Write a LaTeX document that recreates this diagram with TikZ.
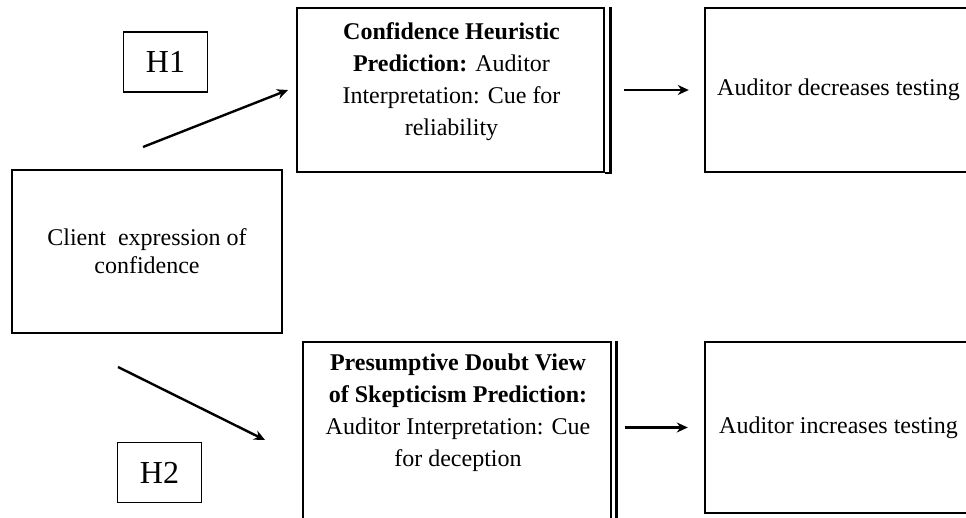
\documentclass[tikz,border=0pt]{standalone}
\usepackage{fontspec}
\setmainfont{Liberation Serif}
\usetikzlibrary{arrows.meta}

\begin{document}
\begin{tikzpicture}[
  x=0.5pt, y=-0.5pt,
  box/.style={rectangle, draw, line width=1.2pt, inner sep=0pt},
  hyp/.style={rectangle, draw, line width=0.6pt, minimum width=42pt, minimum height=30pt, font=\fontsize{16}{19}\selectfont},
  txt/.style={align=center, font=\fontsize{12}{16}\selectfont},
  flow/.style={-{Stealth[length=5.5pt,width=5pt]}, line width=1.2pt}
]
\clip (0,0) rectangle (966,518);

% Left: client cue and hypotheses
\node[box, minimum width=135pt, minimum height=81.5pt, align=center, font=\fontsize{12}{14}\selectfont] (client) at (147,251.5) {Client~ expression of\\confidence};
\node[hyp] (h1) at (165.5,62) {H1};
\node[hyp] (h2) at (159.5,472.5) {H2};

% Middle: the two predictions
\node[box, minimum width=153.5pt, minimum height=82pt] (conf) at (450.5,90) {};
\node[txt] (conftxt) at (451.5,82) {\textbf{Confidence Heuristic}\\\textbf{Prediction:} Auditor\\Interpretation: Cue for\\reliability};
\draw[line width=1.3pt] ([xshift=2.5pt]conf.north east) -- ([xshift=2.5pt]conf.south east) -- (conf.south east);

\node[box, minimum width=154pt, minimum height=100pt] (pres) at (457,442) {};
\node[txt] (prestxt) at (458,413) {\textbf{Presumptive Doubt View}\\\textbf{of Skepticism Prediction:}\\Auditor Interpretation: Cue\\for deception};
\draw[line width=1.3pt] ([xshift=2pt]pres.north east) -- ([xshift=2pt]pres.south east);

% Right: outcomes
\node[box, minimum width=133.5pt, minimum height=82pt, txt] (dec) at (838.5,90) {Auditor decreases testing};
\node[box, minimum width=133.5pt, minimum height=85.5pt, txt] (inc) at (838.5,427.5) {Auditor increases testing};

% arrows
\coordinate (h1s) at (143,147);
\coordinate (h1e) at (288,90);
\coordinate (h2s) at (118,367);
\coordinate (h2e) at (265,440);
\draw[flow] (h1s) -- (h1e);
\draw[flow] (h2s) -- (h2e);
\draw[flow, shorten <=9.5pt, shorten >=7.5pt] (conf.east) -- (dec.west);
\draw[flow, yshift=-2.25pt, shorten <=6.5pt, shorten >=8pt] (pres.east |- inc.west) -- (inc.west);
\end{tikzpicture}
\end{document}
